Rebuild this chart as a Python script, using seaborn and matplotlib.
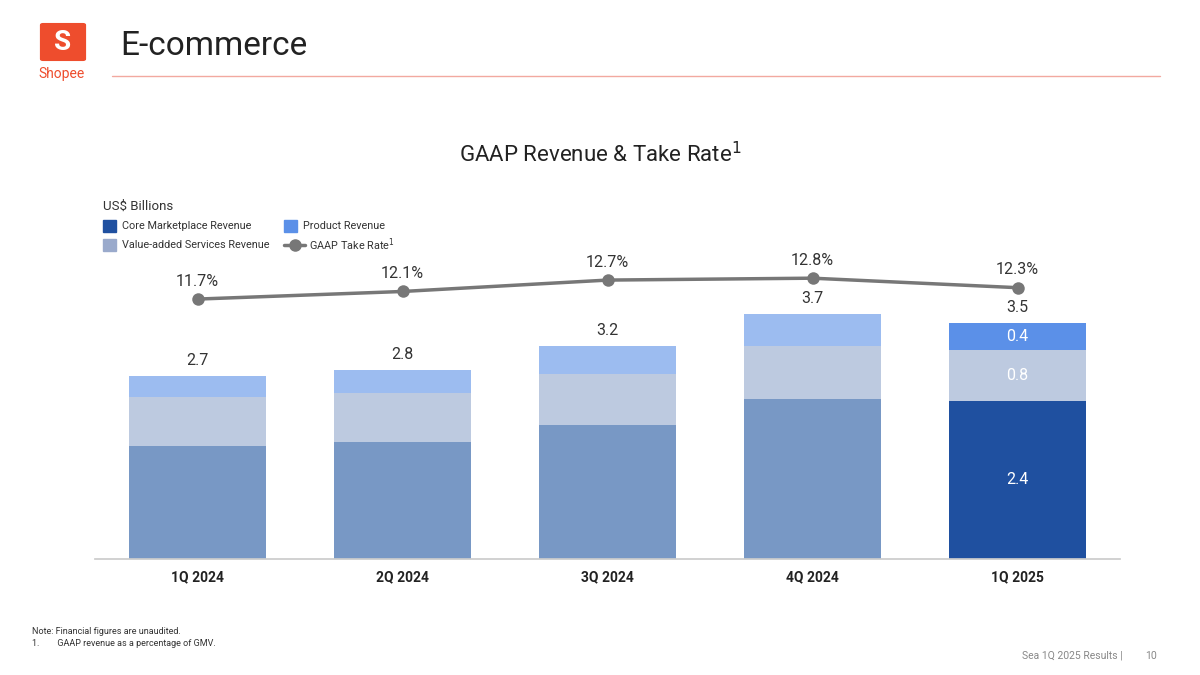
import matplotlib
matplotlib.use("Agg")
import matplotlib.pyplot as plt
import seaborn as sns
import numpy as np
from matplotlib.patches import FancyBboxPatch, Rectangle
from matplotlib.lines import Line2D

quarters = ["1Q 2024", "2Q 2024", "3Q 2024", "4Q 2024", "1Q 2025"]
core = [1.68, 1.74, 1.99, 2.37, 2.35]
vas = [0.72, 0.72, 0.75, 0.79, 0.75]
product = [0.32, 0.34, 0.42, 0.47, 0.40]
totals = ["2.7", "2.8", "3.2", "3.7", "3.5"]
take_rate = [11.7, 12.1, 12.7, 12.8, 12.3]
last_labels = ["2.4", "0.8", "0.4"]

sns.set_theme(style="white")
plt.rcParams['font.family'] = ['Roboto', 'DejaVu Sans']

fig = plt.figure(figsize=(12, 6.75), dpi=100)
W, H = 1200, 675
ax = fig.add_axes([95/W, 1-559/H, 1025/W, 309/H])
core_a = np.array(core); vas_a = np.array(vas); prod_a = np.array(product)

layers = [(core_a, np.zeros(5), "#7898c5", "#1f50a0"),
          (vas_a, core_a, "#bdcae0", "#bdcae0"),
          (prod_a, core_a + vas_a, "#9cbcf0", "#5b90e8")]
for vals, bot, c, hc in layers:
    n0 = len(ax.patches)
    sns.barplot(x=quarters, y=vals, color=c, width=0.67, ax=ax, saturation=1,
                bottom=bot, linewidth=0, errorbar=None)
    ax.patches[n0 + 4].set_facecolor(hc)

ax.set_xlim(-0.5, 4.5)
ax.set_ylim(0, 309/67.4)
ax.set_xlabel(""); ax.set_ylabel("")
ax.set_yticks([])
for s in ["top", "left", "right"]:
    ax.spines[s].set_visible(False)
ax.spines["bottom"].set_color("#cccccc")
ax.tick_params(axis="x", length=0, pad=8)
for t in ax.get_xticklabels():
    t.set_fontweight("bold"); t.set_fontsize(10); t.set_color("#222222")
for i, tot in enumerate(totals):
    top = core[i] + vas[i] + product[i]
    ax.text(i, top + 0.12, tot, ha="center", va="bottom", fontsize=11.5, color="#333333")
mids = [core[4]/2, core[4] + vas[4]/2, core[4] + vas[4] + product[4]/2]
for m, lab in zip(mids, last_labels):
    ax.text(4, m, lab, ha="center", va="center", fontsize=11.5, color="white")

ax2 = ax.twinx()
ax2.set_ylim(-1.98, -1.98 + 309/19)
ax2.axis("off")
sns.lineplot(x=list(range(5)), y=take_rate, ax=ax2, color="#777777", lw=2.5, marker="o", markersize=9, markeredgewidth=0)
for i, v in enumerate(take_rate):
    ax2.text(i, v + 0.55, f"{v}%", ha="center", va="bottom", fontsize=11.5, color="#333333")

# header
fig.text(120/W, 1-46/H, "E-commerce", fontsize=24, va="center", color="#222222")
fig.add_artist(Line2D([112/W, 1160/W], [1-76/H, 1-76/H], color="#f2a9a0", lw=1))
fig.add_artist(FancyBboxPatch((43/W, 1-59/H), 40/W, 34/H, boxstyle="round,pad=0.002", color="#ee4d2d", transform=fig.transFigure))
fig.text(63/W, 1-43/H, "S", fontsize=20, color="white", ha="center", va="center", fontweight="bold")
fig.text(62/W, 1-74/H, "Shopee", fontsize=10, color="#ee4d2d", ha="center", va="center")
fig.text(600/W, 1-155/H, "GAAP Revenue & Take Rate$^1$", fontsize=16, ha="center", va="center", color="#222222")
fig.text(103/W, 1-206/H, "US$ Billions", fontsize=9.5, va="center", color="#333333")

def sq(x, y, c, label):
    fig.add_artist(Rectangle((x/W, 1-(y+6)/H), 13/W, 12/H, color=c, transform=fig.transFigure))
    fig.text((x+19)/W, 1-y/H, label, fontsize=7.8, va="center", color="#333333")
sq(103, 226, "#1f50a0", "Core Marketplace Revenue")
sq(284, 226, "#5b90e8", "Product Revenue")
sq(103, 245, "#9aaacc", "Value-added Services Revenue")
fig.add_artist(Line2D([284/W, 305/W], [1-245/H]*2, color="#777777", lw=2.5))
fig.add_artist(Line2D([294.5/W], [1-245/H], color="#777777", marker="o", markersize=8, lw=0))
fig.text(309/W, 1-245/H, "GAAP Take Rate$^1$", fontsize=7.8, va="center", color="#333333")

fig.text(32/W, 1-632/H, "Note: Financial figures are unaudited.", fontsize=6.5, va="center", color="#333333")
fig.text(32/W, 1-643/H, "1.        GAAP revenue as a percentage of GMV.", fontsize=6.5, va="center", color="#333333")
fig.text(1123/W, 1-656/H, "Sea 1Q 2025 Results |", fontsize=7.5, ha="right", va="center", color="#888888")
fig.text(1157/W, 1-656/H, "10", fontsize=7.5, ha="right", va="center", color="#888888")

fig.savefig("out.png", dpi=100)
